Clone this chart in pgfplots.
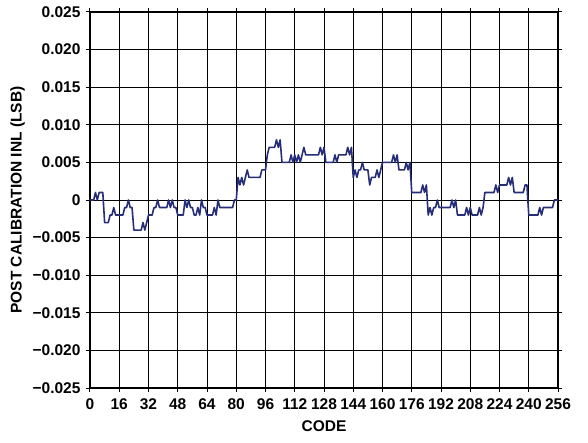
\documentclass[border=0pt]{standalone}
\usepackage{pgfplots}
\pgfplotsset{compat=1.18}
\usepackage{pgfplotstable}
\usepackage{fontspec}
\setmainfont{Liberation Sans}
\definecolor{inlblue}{RGB}{38,46,122}
\pgfplotstableread{
x y
0 0
1 0
2 0
3 0.001
4 0
5 0.001
6 0.001
7 0.001
8 -0.003
9 -0.003
10 -0.003
11 -0.002
12 -0.002
13 -0.001
14 -0.002
15 -0.002
16 -0.002
17 -0.002
18 -0.002
19 -0.001
20 -0.001
21 0
22 -0.001
23 -0.001
24 -0.004
25 -0.004
26 -0.004
27 -0.004
28 -0.004
29 -0.003
30 -0.004
31 -0.003
32 -0.002
33 -0.002
34 -0.002
35 -0.001
36 -0.001
37 0
38 -0.001
39 -0.001
40 -0.001
41 -0.001
42 -0.001
43 0
44 -0.001
45 0
46 -0.001
47 -0.001
48 -0.002
49 -0.002
50 -0.002
51 -0.002
52 0
53 -0.001
54 0
55 -0.001
56 -0.001
57 -0.002
58 -0.002
59 -0.001
60 -0.002
61 0
62 -0.001
63 -0.001
64 -0.002
65 -0.002
66 -0.002
67 -0.002
68 -0.001
69 -0.002
70 0
71 -0.001
72 -0.001
73 -0.001
74 -0.001
75 -0.001
76 -0.001
77 -0.001
78 -0.001
79 0
80 0
81 0.003
82 0.002
83 0.003
84 0.002
85 0.003
86 0.004
87 0.003
88 0.003
89 0.003
90 0.003
91 0.003
92 0.003
93 0.003
94 0.004
95 0.004
96 0.004
97 0.006
98 0.007
99 0.007
100 0.007
101 0.007
102 0.008
103 0.007
104 0.008
105 0.005
106 0.005
107 0.005
108 0.005
109 0.005
110 0.006
111 0.005
112 0.006
113 0.005
114 0.006
115 0.005
116 0.006
117 0.007
118 0.006
119 0.006
120 0.006
121 0.006
122 0.006
123 0.006
124 0.006
125 0.006
126 0.007
127 0.006
128 0.007
129 0.005
130 0.005
131 0.005
132 0.005
133 0.005
134 0.006
135 0.005
136 0.006
137 0.006
138 0.006
139 0.006
140 0.006
141 0.007
142 0.006
143 0.007
144 0.003
145 0.004
146 0.003
147 0.004
148 0.004
149 0.005
150 0.004
151 0.004
152 0.004
153 0.002
154 0.003
155 0.003
156 0.003
157 0.004
158 0.003
159 0.004
160 0.005
161 0.005
162 0.005
163 0.005
164 0.005
165 0.005
166 0.006
167 0.005
168 0.006
169 0.004
170 0.004
171 0.004
172 0.004
173 0.005
174 0.004
175 0.005
176 0.001
177 0.001
178 0.001
179 0.001
180 0.001
181 0.001
182 0.002
183 0.001
184 0.002
185 -0.002
186 -0.001
187 -0.002
188 -0.001
189 -0.001
190 0
191 -0.001
192 -0.001
193 -0.001
194 -0.001
195 -0.001
196 -0.001
197 -0.001
198 0
199 -0.001
200 0
201 -0.002
202 -0.002
203 -0.002
204 -0.002
205 -0.002
206 -0.001
207 -0.002
208 -0.001
209 -0.002
210 -0.002
211 -0.002
212 -0.002
213 -0.001
214 -0.002
215 -0.001
216 0.001
217 0.001
218 0.001
219 0.001
220 0.001
221 0.001
222 0.002
223 0.001
224 0.002
225 0.002
226 0.002
227 0.002
228 0.002
229 0.003
230 0.002
231 0.003
232 0.001
233 0.001
234 0.001
235 0.001
236 0.001
237 0.001
238 0.002
239 0.002
240 -0.002
241 -0.002
242 -0.002
243 -0.002
244 -0.002
245 -0.002
246 -0.001
247 -0.002
248 -0.001
249 -0.001
250 -0.001
251 -0.001
252 -0.001
253 -0.001
254 0
255 0
256 0
}\inldata
\begin{document}
\begin{tikzpicture}
\begin{axis}[
  scale only axis,
  width=468pt, height=376pt,
  xmin=0, xmax=256, ymin=-0.025, ymax=0.025,
  xtick={0,16,...,256},
  ytick={-0.025,-0.02,-0.015,-0.01,-0.005,0,0.005,0.01,0.015,0.02,0.025},
  yticklabels={−0.025,−0.020,−0.015,−0.010,−0.005,0,0.005,0.010,0.015,0.020,0.025},
  scaled y ticks=false,
  /pgf/number format/assume math mode=true,
  grid=major,
  major grid style={black, line width=1pt},
  axis line style={black, line width=1.6pt},
  tick style={black, line width=1pt},
  tick align=outside,
  major tick length=4pt,
  ticklabel style={font=\fontsize{15.5}{17}\selectfont\bfseries},
  xticklabel style={yshift=-3pt},
  yticklabel style={xshift=-2pt},
  xlabel={CODE},
  ylabel={POST CALIBRATION INL (LSB)},
  label style={font=\fontsize{15.5}{17}\selectfont\bfseries},
  xlabel style={yshift=-4pt},
  ylabel style={yshift=1pt},
]
\addplot[inlblue, line width=1.6pt, line join=round] table[x=x,y=y] {\inldata};
\end{axis}
\pgfresetboundingbox
\path ([shift={(-90pt,-54pt)}]current axis.south west) rectangle ([shift={(30pt,12pt)}]current axis.north east);
\end{tikzpicture}
\end{document}
